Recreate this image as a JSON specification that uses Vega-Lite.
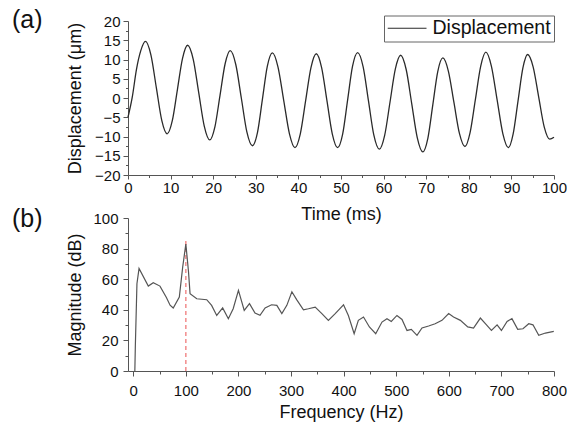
{
  "$schema": "https://vega.github.io/schema/vega-lite/v6.json",
  "padding": {"left": 12, "top": 8, "right": 0, "bottom": 0},
  "background": "white",
  "spacing": 43,
  "bounds": "flush",
  "config": {
    "font": "Liberation Sans",
    "view": {"stroke": null},
    "axis": {
      "grid": false,
      "domainColor": "#555",
      "tickColor": "#555",
      "labelFontSize": 15,
      "titleFontSize": 18,
      "titleFontWeight": "normal",
      "labelColor": "#111",
      "titleColor": "#111",
      "labelOverlap": false,
      "labelFlush": false
    }
  },
  "datasets": {
    "disp": [
      {"t":0,"d":-5.0,"s":"Displacement"},{"t":1.0,"d":0.2,"s":"Displacement"},{"t":2.0,"d":7.5,"s":"Displacement"},{"t":3.0,"d":12.3,"s":"Displacement"},{"t":4.1,"d":14.7,"s":"Displacement"},
      {"t":5.375,"d":11.2,"s":"Displacement"},{"t":6.65,"d":2.7,"s":"Displacement"},{"t":7.925,"d":-5.8,"s":"Displacement"},{"t":9.2,"d":-9.3,"s":"Displacement"},
      {"t":10.4,"d":-5.9,"s":"Displacement"},{"t":11.6,"d":2.2,"s":"Displacement"},{"t":12.8,"d":10.3,"s":"Displacement"},{"t":14.0,"d":13.7,"s":"Displacement"},
      {"t":15.3,"d":10.1,"s":"Displacement"},{"t":16.6,"d":1.4,"s":"Displacement"},{"t":17.9,"d":-7.3,"s":"Displacement"},{"t":19.2,"d":-10.9,"s":"Displacement"},
      {"t":20.4,"d":-7.5,"s":"Displacement"},{"t":21.6,"d":0.7,"s":"Displacement"},{"t":22.8,"d":8.9,"s":"Displacement"},{"t":24.0,"d":12.3,"s":"Displacement"},
      {"t":25.3,"d":8.7,"s":"Displacement"},{"t":26.6,"d":0,"s":"Displacement"},{"t":27.9,"d":-8.8,"s":"Displacement"},{"t":29.2,"d":-12.4,"s":"Displacement"},
      {"t":30.4,"d":-8.9,"s":"Displacement"},{"t":31.55,"d":-0.35,"s":"Displacement"},{"t":32.7,"d":8.2,"s":"Displacement"},{"t":33.9,"d":11.7,"s":"Displacement"},
      {"t":35.2,"d":8.1,"s":"Displacement"},{"t":36.55,"d":-0.6,"s":"Displacement"},{"t":37.9,"d":-9.3,"s":"Displacement"},{"t":39.2,"d":-12.9,"s":"Displacement"},
      {"t":40.45,"d":-9.3,"s":"Displacement"},{"t":41.7,"d":-0.7,"s":"Displacement"},{"t":42.95,"d":7.9,"s":"Displacement"},{"t":44.2,"d":11.5,"s":"Displacement"},
      {"t":45.45,"d":7.9,"s":"Displacement"},{"t":46.7,"d":-0.7,"s":"Displacement"},{"t":47.95,"d":-9.3,"s":"Displacement"},{"t":49.2,"d":-12.9,"s":"Displacement"},
      {"t":50.4,"d":-9.3,"s":"Displacement"},{"t":51.55,"d":-0.55,"s":"Displacement"},{"t":52.7,"d":8.2,"s":"Displacement"},{"t":53.9,"d":11.8,"s":"Displacement"},
      {"t":55.2,"d":8.1,"s":"Displacement"},{"t":56.45,"d":-0.75,"s":"Displacement"},{"t":57.7,"d":-9.6,"s":"Displacement"},{"t":59.0,"d":-13.3,"s":"Displacement"},
      {"t":60.25,"d":-9.7,"s":"Displacement"},{"t":61.5,"d":-1.1,"s":"Displacement"},{"t":62.75,"d":7.5,"s":"Displacement"},{"t":64.0,"d":11.1,"s":"Displacement"},
      {"t":65.3,"d":7.4,"s":"Displacement"},{"t":66.6,"d":-1.45,"s":"Displacement"},{"t":67.9,"d":-10.3,"s":"Displacement"},{"t":69.2,"d":-14.0,"s":"Displacement"},
      {"t":70.4,"d":-10.4,"s":"Displacement"},{"t":71.55,"d":-1.8,"s":"Displacement"},{"t":72.7,"d":6.8,"s":"Displacement"},{"t":73.9,"d":10.4,"s":"Displacement"},
      {"t":75.2,"d":7.0,"s":"Displacement"},{"t":76.5,"d":-1.1,"s":"Displacement"},{"t":77.8,"d":-9.2,"s":"Displacement"},{"t":79.1,"d":-12.6,"s":"Displacement"},
      {"t":80.3,"d":-9.0,"s":"Displacement"},{"t":81.55,"d":-0.35,"s":"Displacement"},{"t":82.8,"d":8.3,"s":"Displacement"},{"t":84.0,"d":11.9,"s":"Displacement"},
      {"t":85.3,"d":8.3,"s":"Displacement"},{"t":86.65,"d":-0.5,"s":"Displacement"},{"t":88.0,"d":-9.3,"s":"Displacement"},{"t":89.3,"d":-12.9,"s":"Displacement"},
      {"t":90.4,"d":-9.4,"s":"Displacement"},{"t":91.55,"d":-0.8,"s":"Displacement"},{"t":92.7,"d":7.8,"s":"Displacement"},{"t":93.8,"d":11.3,"s":"Displacement"},
      {"t":95.1,"d":8.1,"s":"Displacement"},{"t":96.4,"d":0.3,"s":"Displacement"},{"t":97.7,"d":-7.5,"s":"Displacement"},{"t":99.0,"d":-10.7,"s":"Displacement"},
      {"t":100,"d":-10.2,"s":"Displacement"}
    ],
    "fft": [
      {"f":3,"m":0},{"f":4,"m":17},{"f":7,"m":57},{"f":11,"m":67},{"f":28.6,"m":55.5},{"f":38,"m":57.7},{"f":50.8,"m":55.5},{"f":63,"m":48},{"f":70,"m":43},{"f":76,"m":41.2},
      {"f":87.6,"m":48.4},{"f":94,"m":68},{"f":100,"m":83},{"f":105,"m":65},{"f":108,"m":50.5},{"f":120.7,"m":47.2},{"f":139.7,"m":46.6},{"f":149,"m":42.9},{"f":158.7,"m":36.3},
      {"f":170,"m":41.2},{"f":180.8,"m":34.2},{"f":190,"m":40.7},{"f":200,"m":52.7},{"f":211,"m":39.6},{"f":221,"m":44},{"f":231.5,"m":37.9},{"f":241,"m":36.4},{"f":250.7,"m":41.2},
      {"f":263,"m":43.3},{"f":273,"m":42.9},{"f":282.5,"m":37.5},{"f":292,"m":42.9},{"f":301.6,"m":51.8},{"f":311,"m":46.5},{"f":323.6,"m":40},{"f":333,"m":40.7},{"f":346,"m":41.8},
      {"f":358.6,"m":37.5},{"f":371,"m":33.1},{"f":384,"m":37.5},{"f":399.8,"m":43.3},{"f":409,"m":36.3},{"f":420,"m":24.4},{"f":428,"m":33.1},{"f":437.8,"m":35.3},{"f":449,"m":28.8},
      {"f":461,"m":24.4},{"f":472.9,"m":32},{"f":482.4,"m":34.2},{"f":490.6,"m":32.4},{"f":501.4,"m":36.3},{"f":511,"m":33.7},{"f":520.5,"m":26.5},{"f":528.7,"m":27.2},{"f":539.5,"m":23.3},
      {"f":549,"m":28.1},{"f":561.6,"m":29.4},{"f":574,"m":30.9},{"f":587,"m":33.1},{"f":599.7,"m":37.5},{"f":609,"m":35.3},{"f":622,"m":33.1},{"f":636,"m":28.8},{"f":647,"m":28.1},
      {"f":660,"m":34.6},{"f":669.5,"m":30.9},{"f":681,"m":26.5},{"f":691.8,"m":30.2},{"f":700,"m":26.5},{"f":710.8,"m":32.4},{"f":720,"m":34.2},{"f":731,"m":27.2},{"f":741,"m":27.6},
      {"f":752,"m":30.9},{"f":760,"m":30.2},{"f":771,"m":23.3},{"f":783.7,"m":24.8},{"f":799.6,"m":25.9}
    ],
    "mark100": [{"f":100,"m":0,"m2":85}]
  },
  "vconcat": [
    {
      "width": 426,
      "height": 154,
      "title": {"text": "(a)", "anchor": "start", "frame": "group", "orient": "top", "offset": 0, "dx": -116, "dy": 39, "baseline": "alphabetic", "fontSize": 25, "fontWeight": "normal", "color": "#111"},
      "data": {"name": "disp"},
      "mark": {"type": "line", "interpolate": "monotone", "strokeWidth": 1.3},
      "encoding": {
        "x": {
          "field": "t", "type": "quantitative",
          "scale": {"domain": [0, 100], "nice": false, "zero": false},
          "axis": {
            "title": "Time (ms)",
            "values": [0,5,10,15,20,25,30,35,40,45,50,55,60,65,70,75,80,85,90,95,100],
            "labelExpr": "datum.value % 10 === 0 ? datum.label : ''",
            "tickSize": {"condition": {"test": "datum.value % 10 !== 0", "value": 2.5}, "value": 4},
            "labelPadding": 1,
            "titlePadding": 10
          }
        },
        "y": {
          "field": "d", "type": "quantitative",
          "scale": {"domain": [-20, 20], "nice": false, "zero": false},
          "axis": {
            "title": "Displacement (μm)",
            "values": [-20,-17.5,-15,-12.5,-10,-7.5,-5,-2.5,0,2.5,5,7.5,10,12.5,15,17.5,20],
            "labelExpr": "datum.value % 5 === 0 ? datum.label : ''",
            "tickSize": {"condition": {"test": "datum.value % 5 !== 0", "value": 2.5}, "value": 5},
            "labelPadding": 3,
            "titlePadding": 10
          }
        },
        "color": {
          "field": "s", "type": "nominal",
          "scale": {"range": ["#2a2a2a"]},
          "legend": {
            "orient": "none", "legendX": 256, "legendY": -5.5, "title": null,
            "strokeColor": "#666", "fillColor": "white", "padding": 3,
            "symbolType": "M-0.55,0H6.5", "symbolSize": 121, "symbolStrokeWidth": 1.2, "symbolOffset": -6,
            "symbolFillColor": "transparent", "symbolStrokeColor": "#2a2a2a",
            "labelFontSize": 19.5, "labelOffset": 32, "labelColor": "#111"
          }
        }
      }
    },
    {
      "width": 426,
      "height": 153,
      "title": {"text": "(b)", "anchor": "start", "frame": "group", "orient": "top", "offset": 0, "dx": -116, "dy": 41, "baseline": "alphabetic", "fontSize": 25, "fontWeight": "normal", "color": "#111"},
      "encoding": {
        "x": {
          "field": "f", "type": "quantitative",
          "scale": {"domain": [-10, 800], "nice": false, "zero": false},
          "axis": {
            "title": "Frequency (Hz)",
            "values": [0,50,100,150,200,250,300,350,400,450,500,550,600,650,700,750,800],
            "labelExpr": "datum.value % 100 === 0 ? datum.label : ''",
            "tickSize": {"condition": {"test": "datum.value % 100 !== 0", "value": 3}, "value": 5},
            "labelPadding": 7,
            "titlePadding": 5.5
          }
        },
        "y": {
          "field": "m", "type": "quantitative",
          "scale": {"domain": [0, 100], "nice": false},
          "axis": {
            "title": "Magnitude (dB)",
            "values": [0,10,20,30,40,50,60,70,80,90,100],
            "labelExpr": "datum.value % 20 === 0 ? datum.label : ''",
            "tickSize": {"condition": {"test": "datum.value % 20 !== 0", "value": 3}, "value": 5},
            "labelPadding": 5,
            "titlePadding": 8
          }
        }
      },
      "layer": [
        {
          "data": {"name": "mark100"},
          "mark": {"type": "rule", "color": "#f07a7a", "strokeDash": [4, 3], "strokeWidth": 1.3},
          "encoding": {"y2": {"field": "m2"}}
        },
        {
          "data": {"name": "fft"},
          "mark": {"type": "line", "color": "#555", "strokeWidth": 1.2},
          "encoding": {}
        }
      ]
    }
  ]
}
